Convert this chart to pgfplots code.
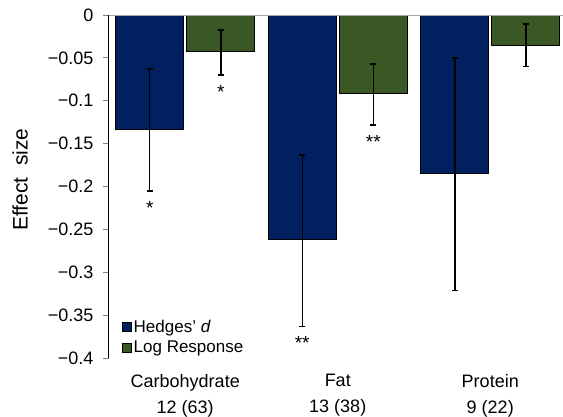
\documentclass[border=0pt]{standalone}
\usepackage{pgfplots}
\pgfplotsset{compat=1.18}
\usepackage{fontspec}
\setmainfont{Liberation Sans}
\definecolor{hblue}{RGB}{0,32,96}
\definecolor{lgreen}{RGB}{59,88,36}
\begin{document}
\begin{tikzpicture}
\useasboundingbox (-109bp,-59bp) rectangle (454bp,358bp);
\begin{axis}[
  scale only axis,
  width=454bp, height=343bp,
  xmin=-0.5, xmax=2.477,
  ymin=-0.4, ymax=0,
  ybar=3bp, bar width=68bp,
  axis y line*=left,
  axis x line*=bottom,
  x axis line style={draw=none},
  xtick={0,1,2},
  xtick style={draw=none},
  xticklabels={{Carbohydrate\\12 (63)},{Fat\\13 (38)},{Protein\\9 (22)}},
  xticklabel style={align=center, font=\fontsize{18bp}{26bp}\selectfont, yshift=-7bp},
  ytick={-0.4,-0.35,-0.3,-0.25,-0.2,-0.15,-0.1,-0.05,0},
  yticklabels={−0.4,−0.35,−0.3,−0.25,−0.2,−0.15,−0.1,−0.05,0},
  yticklabel style={font=\fontsize{18bp}{20bp}\selectfont, xshift=-6bp},
  tick align=outside,
  major tick length=6bp,
  y axis line style={line width=1bp},
  ytick style={line width=1bp},
  ylabel={Effect\ \ size},
  ylabel style={font=\fontsize{21bp}{24bp}\selectfont, at={(rel axis cs:0,0.52)}, anchor=center, yshift=89bp},
  legend style={at={(0.028,0.005)}, anchor=south west, draw=none, fill=none,
    font=\fontsize{17bp}{19bp}\selectfont, row sep=3bp, inner sep=0bp},
  legend cell align=left,
  legend image code/.code={\draw[#1, draw=black, line width=0.8bp] (0bp,-4.5bp) rectangle (9bp,4.5bp);},
  error bars/y dir=both, error bars/y explicit,
  error bars/error bar style={black, line width=1.5bp},
  error bars/error mark options={rotate=90, black, line width=1.5bp, mark size=3.2bp},
  clip=false,
]
\addplot[fill=hblue, draw=black, line width=0.8bp] coordinates {
  (0,-0.133) += (0,0.070) -= (0,0.072)
  (1,-0.262) += (0,0.099) -= (0,0.101)
  (2,-0.185) += (0,0.135) -= (0,0.136)
};
\addplot[fill=lgreen, draw=black, line width=0.8bp] coordinates {
  (0,-0.043) += (0,0.0255) -= (0,0.027)
  (1,-0.092) += (0,0.035) -= (0,0.036)
  (2,-0.036) += (0,0.0255) -= (0,0.024)
};
\legend{Hedges' \textit{d},Log Response}
\draw[gray!70, line width=1bp] (rel axis cs:0,1) -- (rel axis cs:1,1);
\node[anchor=north, inner sep=0, yshift=-10bp, font=\fontsize{19bp}{20bp}\selectfont] at (axis cs:-0.233,-0.205) {*};
\node[anchor=north, inner sep=0, yshift=-10bp, font=\fontsize{19bp}{20bp}\selectfont] at (axis cs:0.233,-0.070) {*};
\node[anchor=north, inner sep=0, yshift=-10bp, font=\fontsize{19bp}{20bp}\selectfont] at (axis cs:0.767,-0.363) {**};
\node[anchor=north, inner sep=0, yshift=-10bp, font=\fontsize{19bp}{20bp}\selectfont] at (axis cs:1.233,-0.128) {**};
\end{axis}
\end{tikzpicture}
\end{document}
